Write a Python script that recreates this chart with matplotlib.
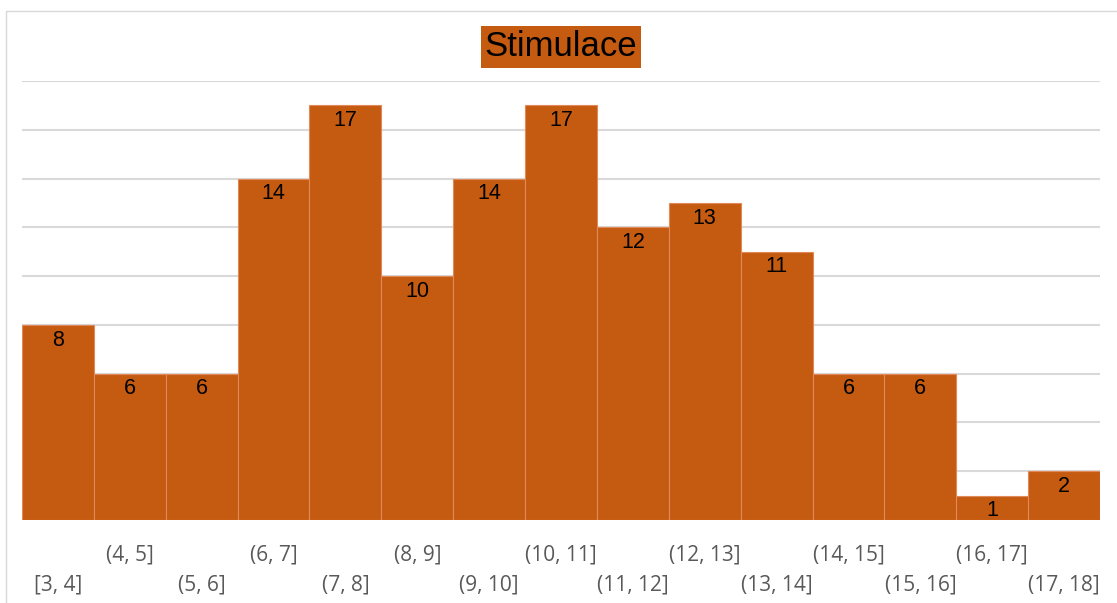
import matplotlib.pyplot as plt
from matplotlib.patches import Rectangle

bins = ['[3, 4]', '(4, 5]', '(5, 6]', '(6, 7]', '(7, 8]', '(8, 9]', '(9, 10]',
        '(10, 11]', '(11, 12]', '(12, 13]', '(13, 14]', '(14, 15]',
        '(15, 16]', '(16, 17]', '(17, 18]']
counts = [8, 6, 6, 14, 17, 10, 14, 17, 12, 13, 11, 6, 6, 1, 2]

bar_color = '#C55A11'

fig = plt.figure(figsize=(11.17, 6.03), dpi=100)
ax = fig.add_axes([22 / 1117, 83 / 603, 1078 / 1117, 439 / 603])

x = list(range(len(counts)))
ax.bar(x, counts, width=1.0, color=bar_color, edgecolor='#E08A5A', linewidth=0.8, zorder=2)

for xi, c in zip(x, counts):
    ax.annotate(str(c), (xi, c), xytext=(0, -11), textcoords='offset points',
                ha='center', va='center', fontsize=15.5, color='black',
                family='Liberation Sans', zorder=3)

ax.set_xlim(-0.5, len(counts) - 0.5)
ax.set_ylim(0, 18)
ax.set_yticks(range(0, 19, 2))
ax.yaxis.grid(True, color='#D9D9D9', linewidth=1.5, zorder=0)
ax.set_yticklabels([])
ax.tick_params(axis='y', length=0)
ax.tick_params(axis='x', length=0)
ax.set_xticks(x)
ax.set_xticklabels([])
for s in ax.spines.values():
    s.set_visible(False)

# alternating two-row category labels
for xi, lab in zip(x, bins):
    y_off = -25 if xi % 2 == 1 else -47
    ax.annotate(lab, (xi, 0), xytext=(0, y_off), textcoords='offset points',
                ha='center', va='center', fontsize=15, color='#595959',
                family='Open Sans', annotation_clip=False)

fig.text(561 / 1117, 1 - 47 / 603, 'Stimulace', ha='center', va='center',
         fontsize=25, family='Liberation Sans', color='black',
         bbox=dict(boxstyle='square,pad=0.12', facecolor=bar_color, edgecolor='none'))

# chart area border
fig.patches.append(Rectangle((6 / 1117, -0.1), 1.2, 1 - 11 / 603 + 0.1,
                             transform=fig.transFigure, fill=False,
                             edgecolor='#D9D9D9', linewidth=1))

fig.savefig('out.png', dpi=100)
